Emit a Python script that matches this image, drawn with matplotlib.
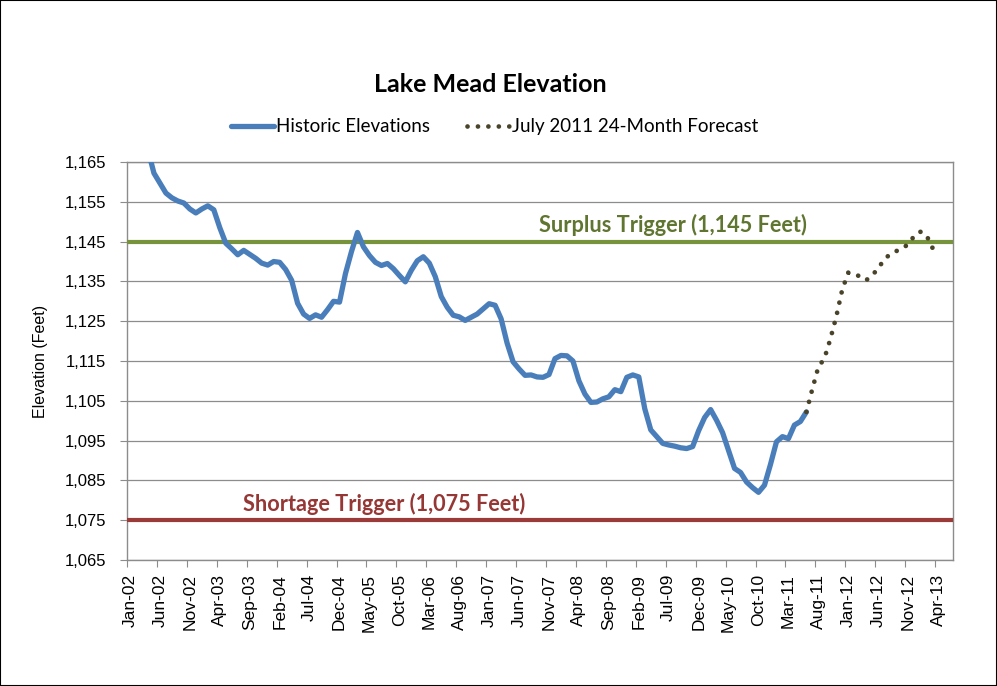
import pandas as pd
import matplotlib
matplotlib.use("Agg")
import matplotlib.pyplot as plt
from matplotlib.patches import Rectangle

# monthly categories Jan-02 .. Jun-13
months = list(pd.date_range("2002-01-01", periods=138, freq="MS").strftime("%b-%y"))

# historic elevations (ft), Jan-02 .. Jun-11
historic = [
    1180.0, 1176.0, 1172.0, 1168.0, 1162.2, 1159.7, 1157.2, 1156.0, 1155.2, 1154.7,
    1153.2, 1152.2, 1153.2, 1154.0, 1153.0, 1148.5, 1144.6, 1143.2, 1141.7, 1142.8,
    1141.8, 1140.8, 1139.6, 1139.1, 1140.0, 1139.8, 1138.0, 1135.3, 1129.5, 1126.8,
    1125.7, 1126.6, 1126.0, 1127.9, 1130.0, 1129.8, 1137.0, 1142.5, 1147.3, 1143.7,
    1141.5, 1139.8, 1139.0, 1139.5, 1138.2, 1136.5, 1134.9, 1137.8, 1140.2, 1141.2,
    1139.6, 1136.2, 1131.2, 1128.5, 1126.5, 1126.1, 1125.2, 1126.0, 1126.8, 1128.1,
    1129.4, 1129.0, 1125.6, 1119.5, 1114.8, 1113.0, 1111.4, 1111.5, 1111.0, 1110.9,
    1111.6, 1115.6, 1116.4, 1116.3, 1115.0, 1110.0, 1106.7, 1104.6, 1104.7, 1105.5,
    1106.0, 1107.8, 1107.3, 1110.9, 1111.5, 1111.0, 1103.0, 1097.7, 1096.0, 1094.3,
    1093.9, 1093.6, 1093.2, 1093.0, 1093.5, 1097.5, 1100.8, 1102.8, 1100.1, 1097.0,
    1092.5, 1088.0, 1087.0, 1084.6, 1083.2, 1082.0, 1083.8, 1089.0, 1094.7, 1096.0,
    1095.5, 1098.9, 1099.8, 1102.2,
]

# July 2011 24-month forecast (ft), Jun-11 .. Apr-13
forecast_start = 113
forecast = [
    1102.2, 1108.0, 1113.5, 1115.6, 1120.5, 1126.2, 1133.0, 1137.2, 1136.9, 1136.2,
    1135.3, 1136.6, 1138.2, 1140.6, 1141.8, 1142.6, 1143.3, 1144.3, 1146.4, 1147.5,
    1146.8, 1143.6, 1141.3,
]

surplus = 1145
shortage = 1075
yticks = list(range(1065, 1166, 10))

fig = plt.figure(figsize=(9.97, 6.86), dpi=100)
ax = fig.add_axes([0.1274, 0.1837, 0.8285, 0.5801])

x_hist = list(range(len(historic)))
x_fc = list(range(forecast_start, forecast_start + len(forecast)))

ax.axhline(surplus, color="#77933c", lw=3.0, zorder=3)
ax.axhline(shortage, color="#9b3b39", lw=3.0, zorder=3)

ax.plot(x_hist, historic, color="#4a7ebb", lw=3.8, solid_joinstyle="round",
        solid_capstyle="round", zorder=4, label="Historic Elevations")
ax.plot(x_fc, forecast, color="#494429", lw=3.4, linestyle=(0, (0.01, 2.2)),
        dash_capstyle="round", zorder=5, label="July 2011 24-Month Forecast")

ax.text(90.7, 1149.3, "Surplus Trigger (1,145 Feet)", color="#5f7530",
        fontsize=15.6, fontweight="bold", family="Lato", ha="center", va="center")
ax.text(42.5, 1079.0, "Shortage Trigger (1,075 Feet)", color="#953735",
        fontsize=15.6, fontweight="bold", family="Lato", ha="center", va="center")

ax.set_xlim(-0.5, 137.5)
ax.set_ylim(1065, 1165)
ax.set_yticks(yticks)
ax.set_yticklabels([f"{v:,}" for v in yticks], family="Liberation Sans", fontsize=12)
ax.grid(axis="y", color="#8c8c8c", lw=0.9)
ax.set_axisbelow(True)

label_pos = list(range(0, len(months), 5))
ax.set_xticks([p - 0.5 for p in label_pos])
ax.set_xticklabels([])
ax.set_xticks(label_pos, minor=True)
ax.set_xticklabels([months[p] for p in label_pos], minor=True, rotation=90,
                   family="Liberation Sans", fontsize=12.5)
ax.tick_params(axis="x", which="minor", length=0, pad=10)
ax.tick_params(axis="x", which="major", length=5, color="#8c8c8c")
ax.tick_params(axis="y", length=5, color="#8c8c8c", pad=10)

for s in ax.spines.values():
    s.set_color("#8c8c8c")
    s.set_linewidth(1.0)

ax.set_ylabel("Elevation (Feet)", family="Liberation Sans", fontsize=11.5, labelpad=12)

fig.text(0.492, 0.877, "Lake Mead Elevation", family="Lato", fontweight="bold",
         fontsize=18, ha="center", va="center")
fig.legend(loc="center", bbox_to_anchor=(0.496, 0.815), ncol=2, frameon=False,
           prop={"family": "Lato", "size": 13.5}, handlelength=2.3,
           handletextpad=0.1, columnspacing=2.0)

fig.patches.append(Rectangle((0, 0), 1, 1, transform=fig.transFigure,
                             fill=False, edgecolor="black", lw=1.5))

fig.savefig("out.png", dpi=100)
